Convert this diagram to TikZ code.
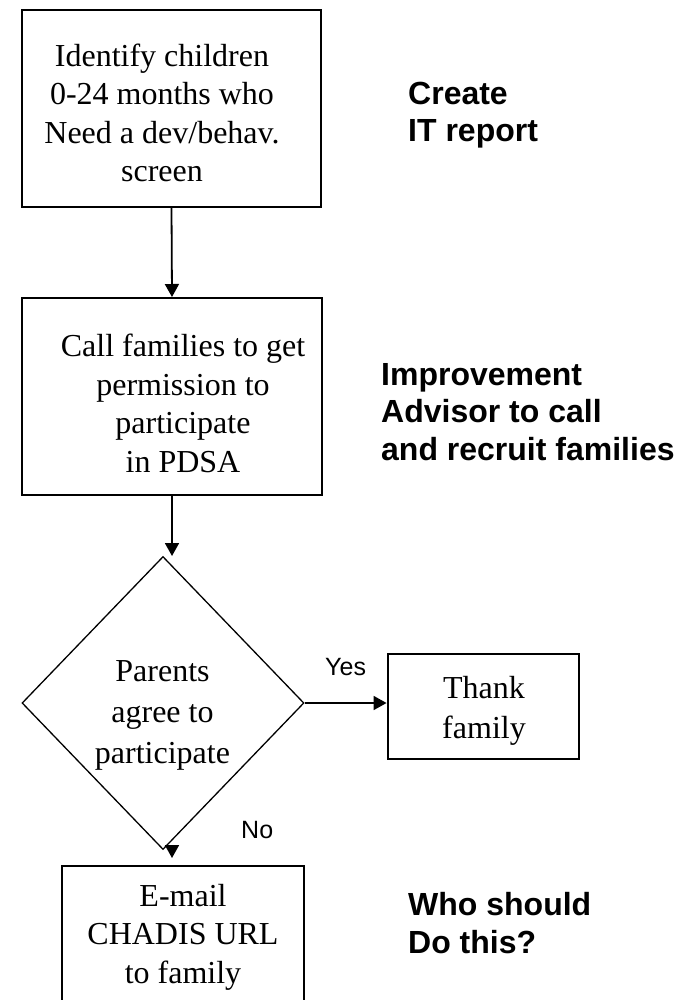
\documentclass[tikz,border=0pt]{standalone}
\usepackage{fontspec}
\setmainfont{Liberation Serif}
\newfontfamily\arialf{Liberation Sans}
\usetikzlibrary{arrows.meta,shapes.geometric}
\begin{document}
\begin{tikzpicture}[x=1pt,y=-1pt,
  box/.style={draw, line width=2pt, rectangle, inner sep=0pt},
  txt/.style={font=\fontsize{32}{38.4}\selectfont, align=center, anchor=base, inner sep=0pt},
  lbl/.style={font=\arialf\bfseries\fontsize{32}{37.5}\selectfont, align=left, anchor=base west, inner sep=0pt},
  yn/.style={font=\arialf\fontsize{25}{30}\selectfont, anchor=base west, inner sep=0pt},
  arr/.style={line width=1.8pt, -{Triangle[length=13pt,width=14pt]}}]
\useasboundingbox (0,0) rectangle (681,1000);
\fill[white] (0,0) rectangle (681,1000);
% boxes
\node[box, minimum width=299pt, minimum height=197pt] (b1) at (171.5,108.5) {};
\node[txt] (t1) at (162,181.5) {Identify children\\0-24 months who\\Need a dev/behav.\\screen};
\node[box, minimum width=300pt, minimum height=197pt] (b2) at (172,396.5) {};
\node[txt] (t2) at (183,472) {Call families to get\\permission to\\participate\\in PDSA};
\node[draw, diamond, line width=1.3pt, minimum width=282pt, minimum height=293pt, inner sep=0pt] (d) at (163,703) {};
\node[txt, font=\fontsize{32}{41}\selectfont] (t3) at (162.5,763) {Parents\\agree to\\participate};
\node[box, minimum width=191.5pt, minimum height=104.6pt] (th) at (483.3,706.3) {};
\node[txt, font=\fontsize{32}{40}\selectfont] (t4) at (484,738) {Thank\\family};
\node[box, minimum width=242pt, minimum height=140pt] (e) at (183,936) {};
\node[txt] (t5) at (183,983) {E-mail\\CHADIS URL\\to family};
% connectors
\coordinate (c2) at (172,556);
\coordinate (c3) at (172,849);
\coordinate (c4) at (172,858);
\draw[arr] (b1.south) -- (b2.north);
\draw[arr] (b2.south) -- (c2);
\draw[arr] (c3) -- (c4);
\draw[arr] (d.east) -- (d.east -| th.west);
% labels
\node[yn] (yes) at (325,675.7) {Yes};
\node[yn] (no) at (241,838) {No};
\node[lbl] (l1) at (408,141.7) {Create\\IT report};
\node[lbl] (l2) at (381,460) {Improvement\\Advisor to call\\and recruit families};
\node[lbl] (l3) at (408,953) {Who should\\Do this?};
\end{tikzpicture}
\end{document}
